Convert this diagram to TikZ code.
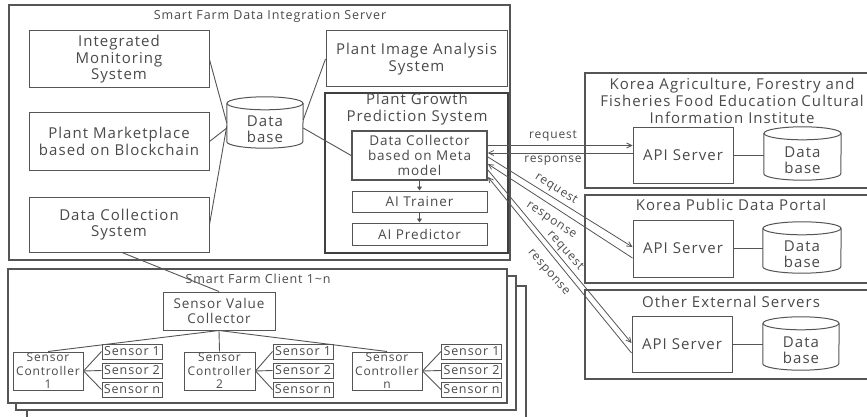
\documentclass[tikz,border=0pt]{standalone}
\usepackage{fontspec}
\setmainfont{Open Sans}[LetterSpace=7]
\usetikzlibrary{arrows.meta,calc}
\definecolor{ln}{HTML}{555555}
\definecolor{tx}{HTML}{4A4A4A}
\newcommand\cylframe[2]{%
  \draw[cyl] ($(#1.north west)+(0pt,6.5pt)$) -- ($(#1.south west)+(0pt,6.5pt)$)
    arc[start angle=180,end angle=360,x radius=#2pt,y radius=6.5pt]
    -- ($(#1.north east)+(0pt,6.5pt)$);
  \draw[cyl] ($(#1.north)+(0pt,6.5pt)$) ellipse[x radius=#2pt,y radius=6.5pt];}
\begin{document}
\begin{tikzpicture}[x=1pt,y=-1pt,
  bx/.style={draw=ln,line width=1pt,text=tx,align=center,inner sep=0pt,fill=white},
  frm/.style={draw=ln,line width=1.1pt,inner sep=0pt,fill=white},
  txt/.style={text=tx,align=center,inner sep=0pt},
  big/.style={font=\fontsize{15}{16.5}\selectfont},
  ttl/.style={font=\fontsize{15}{17}\selectfont},
  mid/.style={font=\fontsize{13.5}{15}\selectfont},
  sml/.style={font=\fontsize{12.5}{14}\selectfont},
  hdr/.style={font=\fontsize{12.5}{14}\selectfont},
  tiny/.style={font=\fontsize{12}{13}\selectfont},
  cyl/.style={draw=ln,line width=1pt},
  con/.style={draw=ln,line width=0.9pt},
  arr/.style={draw=ln,line width=0.8pt,-{Straight Barb[length=5pt,width=5pt]}},
  tri/.style={draw=ln,line width=0.9pt,-{Triangle[length=4pt,width=5pt]}}]
\useasboundingbox (0,0) rectangle (867,417);
% ---------------- server ----------------
\node[frm,minimum width=501,minimum height=255] (srv) at (259.5,132.5) {};
\node[txt,hdr] (srvt) at (270,16) {Smart Farm Data Integration Server};
\node[bx,big,minimum width=180,minimum height=57] (ims) at (119,59.5) {Integrated\\Monitoring\\System};
\node[bx,big,minimum width=180,minimum height=57] (pm) at (119,141.5) {Plant Marketplace\\based on Blockchain};
\node[bx,big,minimum width=180,minimum height=55] (dcs) at (119,224.5) {Data Collection\\System};
\node[txt,big,minimum width=76,minimum height=38] (db) at (265,129) {Data\\base};
\cylframe{db}{38}
\node[bx,big,minimum width=181,minimum height=56] (pia) at (416.5,59) {Plant Image Analysis\\System};
\node[frm,line width=2.6pt,draw=black!75,minimum width=183,minimum height=160] (pgps) at (416.5,173) {};
\node[txt,big] (pgpst) at (417,109) {Plant Growth\\Prediction System};
\node[bx,mid,line width=1.8pt,minimum width=135,minimum height=49] (dc) at (419.5,155.5) {Data Collector\\based on Meta\\model};
\node[bx,mid,minimum width=135,minimum height=21] (tr) at (419.5,201.5) {AI Trainer};
\node[bx,mid,minimum width=135,minimum height=22] (pr) at (419.5,234) {AI Predictor};
\draw[con] (ims.east) -- ($(db.west)+(0,-6)$);
\draw[con] (pm.east) -- ($(db.west)+(0,-1)$);
\draw[con] (dcs.east) -- ($(db.west)+(0,-3)$);
\draw[con] (pia.west) -- ($(db.east)+(0,-9)$);
\draw[con] ($(db.east)+(0,-1)$) -- (dc.west);
\draw[tri] (dc.south) -- (tr.north);
\draw[tri] (tr.south) -- (pr.north);
% ---------------- clients ----------------
\node[frm,minimum width=499,minimum height=134] (cl3) at (276.5,353) {};
\node[frm,minimum width=500,minimum height=134] (cl2) at (266,343) {};
\node[frm,minimum width=499,minimum height=134] (cl1) at (257.5,336) {};
\node[txt,hdr] (clt) at (258,279) {Smart Farm Client 1\textasciitilde n};
\node[bx,mid,minimum width=112,minimum height=38] (svc) at (219,311) {Sensor Value\\Collector};
\node[bx,font=\fontsize{12}{13.5}\selectfont,minimum width=70,minimum height=38] (c1) at (48,371) {Sensor\\Controller\\1};
\node[bx,font=\fontsize{12}{13.5}\selectfont,minimum width=71,minimum height=38] (c2) at (219.5,371) {Sensor\\Controller\\2};
\node[bx,font=\fontsize{12}{13.5}\selectfont,minimum width=70,minimum height=38] (c3) at (387,371) {Sensor\\Controller\\n};
\foreach \c/\x in {1/132,2/303,3/471.5}{
  \node[bx,sml,minimum width=60,minimum height=15] (s\c a) at (\x,351.5) {Sensor 1};
  \node[bx,sml,minimum width=60,minimum height=15] (s\c b) at (\x,370.5) {Sensor 2};
  \node[bx,sml,minimum width=60,minimum height=15] (s\c n) at (\x,389.5) {Sensor n};
  \draw[con] (c\c.east) -- (s\c a.west);
  \draw[con] (c\c.east) -- (s\c b.west);
  \draw[con] (c\c.east) -- (s\c n.west);
}
\draw[con] (svc.south) -- (c1.north);
\draw[con] (svc.south) -- (c2.north);
\draw[con] (svc.south) -- (c3.north);
\draw[con] ($(dcs.south)+(3,0)$) -- (svc.north);
% ---------------- external ----------------
\node[frm,minimum width=287,minimum height=115] (ext1) at (728.5,130.5) {};
\node[txt,ttl] (ext1t) at (732,101) {Korea Agriculture, Forestry and\\Fisheries Food Education Cultural\\Information Institute};
\node[bx,big,minimum width=100,minimum height=55] (api1) at (683,155.5) {API Server};
\node[txt,big,minimum width=77,minimum height=40] (db1) at (802.5,160) {Data\\base};
\cylframe{db1}{38.5}
\draw[con] (api1.east) -- (api1.east -| db1.west);
\node[frm,minimum width=287,minimum height=88] (ext2) at (728.5,239) {};
\node[txt,ttl] (ext2t) at (731,205) {Korea Public Data Portal};
\node[bx,big,minimum width=100,minimum height=57] (api2) at (683,248.5) {API Server};
\node[txt,big,minimum width=78,minimum height=38] (db2) at (802,254) {Data\\base};
\cylframe{db2}{39}
\draw[con] (api2.east) -- (api2.east -| db2.west);
\node[frm,minimum width=287,minimum height=89] (ext3) at (728.5,334.5) {};
\node[txt,ttl] (ext3t) at (731,302) {Other External Servers};
\node[bx,big,minimum width=100,minimum height=56] (api3) at (682,344) {API Server};
\node[txt,big,minimum width=76,minimum height=40] (db3) at (801,350) {Data\\base};
\cylframe{db3}{38}
\draw[con] (api3.east) -- (api3.east -| db3.west);
% ---------------- request / response ----------------
\draw[arr] ($(dc.east)+(0,-10)$) -- ($(api1.west)+(0,-10)$);
\draw[arr] ($(api1.west)+(0,-2.5)$) -- ($(dc.east)+(0,-2.5)$);
\draw[arr] ($(dc.east)+(0,1.5)$) -- ($(api2.west)+(0,-1.5)$);
\draw[arr] ($(api2.west)+(0,9.5)$) -- ($(dc.east)+(0,8.5)$);
\draw[arr] ($(dc.east)+(0,14.5)$) -- ($(api3.west)+(0,-1)$);
\draw[arr] ($(api3.west)+(0,9)$) -- ($(dc.east)+(0,21.5)$);
\node[txt,tiny] (rq1) at (553,136) {request};
\node[txt,tiny] (rs1) at (553,161) {response};
\node[txt,tiny,rotate=-33] (rq2) at (556,189) {request};
\node[txt,tiny,rotate=-34] (rs2) at (551,221) {response};
\node[txt,tiny,rotate=-48] (rq3) at (565,251) {request};
\node[txt,tiny,rotate=-49] (rs3) at (548,273) {response};
\end{tikzpicture}
\end{document}
